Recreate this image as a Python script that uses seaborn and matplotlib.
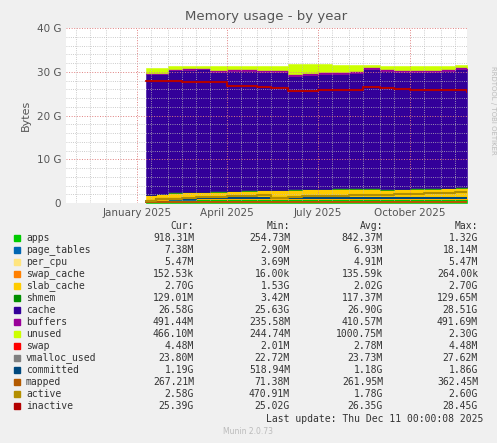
import matplotlib
matplotlib.use("Agg")
import matplotlib.pyplot as plt
import matplotlib.dates as mdates
import seaborn as sns
import pandas as pd
import numpy as np

sns.set_style("white")
plt.rcParams['font.family'] = ['DejaVu Sans']

G = 1e9
dates = pd.to_datetime([
    "2025-01-10", "2025-01-20", "2025-02-01", "2025-02-15", "2025-03-01", "2025-03-15",
    "2025-04-01", "2025-04-15", "2025-05-01", "2025-05-15", "2025-06-01", "2025-06-15",
    "2025-07-01", "2025-07-15", "2025-08-01", "2025-08-15", "2025-09-01", "2025-09-15",
    "2025-10-01", "2025-10-15", "2025-11-01", "2025-11-15", "2025-11-27"])

# stacked series (GB)
apps = [0.4, 0.6, 0.8, 0.8, 0.85, 0.85, 0.9, 0.9, 0.9, 0.9, 0.9, 0.9,
        0.9, 0.9, 0.9, 0.9, 0.9, 0.9, 0.9, 0.9, 0.9, 0.92, 0.92]
page_tables = [0.007] * 23
per_cpu = [0.005] * 23
swap_cache = [0.0002] * 23
slab_cache = [1.5, 1.5, 1.5, 1.6, 1.6, 1.7, 1.8, 1.9, 2.0, 2.0, 2.1, 2.2,
              2.2, 2.3, 2.4, 2.4, 2.1, 2.2, 2.3, 2.4, 2.5, 2.6, 2.7]
shmem = [0.004, 0.05, 0.1, 0.1, 0.11, 0.11, 0.12, 0.12, 0.12, 0.12, 0.12, 0.12,
         0.12, 0.12, 0.12, 0.12, 0.12, 0.12, 0.12, 0.12, 0.13, 0.13, 0.13]
cache = [27.6, 27.3, 28.0, 28.0, 28.0, 27.3, 27.3, 27.3, 27.0, 26.9, 26.0, 26.1,
         26.2, 26.2, 26.2, 27.2, 27.0, 26.6, 26.5, 26.6, 26.7, 26.9, 26.6]
buffers = [0.25, 0.25, 0.3, 0.3, 0.35, 0.35, 0.4, 0.4, 0.4, 0.4, 0.42, 0.42,
           0.43, 0.43, 0.45, 0.45, 0.45, 0.46, 0.47, 0.47, 0.48, 0.49, 0.49]
unused = [1.2, 1.1, 0.6, 0.6, 0.5, 1.0, 0.8, 0.7, 0.9, 1.0, 2.3, 2.0,
          1.8, 1.6, 1.4, 0.4, 0.7, 1.0, 1.0, 0.9, 0.6, 0.4, 0.47]

# line series (GB)
swap = [0.002] * 22 + [0.0045]
vmalloc_used = [0.024] * 23
committed = [0.52, 0.9, 1.0, 1.0, 1.1, 1.1, 1.1, 1.15, 1.2, 1.2, 1.2, 1.2,
             1.2, 1.2, 1.2, 1.2, 1.2, 1.2, 1.2, 1.2, 1.19, 1.19, 1.19]
mapped = [0.07, 0.2, 0.25, 0.25, 0.26, 0.26, 0.26, 0.26, 0.27, 0.27, 0.27, 0.27,
          0.27, 0.27, 0.27, 0.27, 0.27, 0.27, 0.27, 0.27, 0.27, 0.27, 0.27]
active = [0.5, 1.0, 1.0, 1.2, 1.3, 1.4, 1.5, 1.7, 1.8, 1.2, 1.3, 1.5,
          1.6, 1.7, 1.8, 1.8, 1.9, 2.0, 2.1, 2.3, 2.4, 2.5, 2.58]
inactive = [28.0, 28.0, 27.8, 27.7, 27.7, 27.6, 26.8, 26.7, 26.5, 26.2, 25.7, 25.7,
            25.8, 25.8, 25.8, 26.6, 26.3, 26.0, 25.9, 25.9, 25.8, 25.8, 25.4]

stack_names = ["apps", "page_tables", "per_cpu", "swap_cache", "slab_cache",
               "shmem", "cache", "buffers", "unused"]
stack_vals = [apps, page_tables, per_cpu, swap_cache, slab_cache, shmem, cache, buffers, unused]
stack_colors = ["#00CC00", "#0066B3", "#FFE57F", "#FF8000", "#FFCC00",
                "#008F00", "#330099", "#990099", "#CCFF00"]
line_names = ["swap", "vmalloc_used", "committed", "mapped", "active", "inactive"]
line_vals = [swap, vmalloc_used, committed, mapped, active, inactive]
line_colors = ["#FF0000", "#808080", "#00487D", "#B35A00", "#B38F00", "#B30000"]

stats = [
    ["918.31M", "254.73M", "842.37M", "1.32G"],
    ["7.38M", "2.90M", "6.93M", "18.14M"],
    ["5.47M", "3.69M", "4.91M", "5.47M"],
    ["152.53k", "16.00k", "135.59k", "264.00k"],
    ["2.70G", "1.53G", "2.02G", "2.70G"],
    ["129.01M", "3.42M", "117.37M", "129.65M"],
    ["26.58G", "25.63G", "26.90G", "28.51G"],
    ["491.44M", "235.58M", "410.57M", "491.69M"],
    ["466.10M", "244.74M", "1000.75M", "2.30G"],
    ["4.48M", "2.01M", "2.78M", "4.48M"],
    ["23.80M", "22.72M", "23.73M", "27.62M"],
    ["1.19G", "518.94M", "1.18G", "1.86G"],
    ["267.21M", "71.38M", "261.95M", "362.45M"],
    ["2.58G", "470.91M", "1.78G", "2.60G"],
    ["25.39G", "25.02G", "26.35G", "28.45G"],
]

fig = plt.figure(figsize=(4.97, 4.43), dpi=100, facecolor="#F0F0F0")
ax = fig.add_axes([66 / 497, 1 - 203 / 443, 401 / 497, 175 / 443])
ax.set_facecolor("white")

base = np.zeros(len(dates))
for v, c in zip(stack_vals, stack_colors):
    top = base + np.array(v) * G
    ax.fill_between(dates, base, top, step="post", facecolor=c, edgecolor=c, lw=0.4, zorder=1)
    base = top
for v, c in zip(line_vals, line_colors):
    ax.plot(dates, np.array(v) * G, color=c, lw=1.5, drawstyle="steps-post", zorder=3)

ax.set_xlim(pd.Timestamp("2024-10-22"), pd.Timestamp("2025-11-27"))
ax.set_ylim(0, 40 * G)
ax.set_yticks(np.arange(0, 41, 10) * G)
ax.set_yticklabels(["0", "10 G", "20 G", "30 G", "40 G"])
ax.set_yticks(np.arange(0, 40, 2) * G, minor=True)
ax.xaxis.set_major_locator(mdates.MonthLocator(bymonth=[1, 4, 7, 10]))
ax.xaxis.set_major_formatter(mdates.DateFormatter("%B %Y"))
ax.xaxis.set_minor_locator(mdates.MonthLocator(bymonthday=[1, 15]))
ax.grid(which="major", color="#E08080", ls=":", lw=0.7, zorder=2)
ax.grid(which="minor", color="#BBBBBB", ls=":", lw=0.6, zorder=2)
ax.set_axisbelow(False)
for s in ax.spines.values():
    s.set_visible(False)
ax.tick_params(labelsize=7.5, colors="#555555", length=0)
ax.set_ylabel("Bytes", fontsize=8, color="#555555")
ax.set_title("Memory usage - by year", fontsize=9.5, color="#555555")
fig.text(0.985, 0.85, "RRDTOOL / TOBI OETIKER", rotation=270, fontsize=5,
         color="#BBBBBB", va="top")

mono = "DejaVu Sans Mono"
fs = 7
ys = 226
cols = [194, 290, 383, 478]
for x, h in zip(cols, ["Cur:", "Min:", "Avg:", "Max:"]):
    fig.text(x / 497, 1 - ys / 443, h, ha="right", va="center", family=mono, fontsize=fs, color="#333333")
names = stack_names + line_names
colors = stack_colors + line_colors
for i, (n, c, row) in enumerate(zip(names, colors, stats)):
    y = ys + 12 * (i + 1)
    fig.patches.append(plt.Rectangle((14 / 497, 1 - (y + 3) / 443), 6 / 497, 6 / 443,
                                     transform=fig.transFigure, color=c))
    fig.text(26 / 497, 1 - y / 443, n, va="center", family=mono, fontsize=fs, color="#333333")
    for x, s in zip(cols, row):
        fig.text(x / 497, 1 - y / 443, s, ha="right", va="center", family=mono, fontsize=fs, color="#333333")
fig.text(483 / 497, 1 - 419 / 443, "Last update: Thu Dec 11 00:00:08 2025", ha="right", va="center",
         family=mono, fontsize=fs, color="#333333")
fig.text(248 / 497, 1 - 431 / 443, "Munin 2.0.73", ha="center", va="center", fontsize=5.5, color="#BBBBBB")

fig.savefig("out.png", dpi=100, facecolor=fig.get_facecolor())
